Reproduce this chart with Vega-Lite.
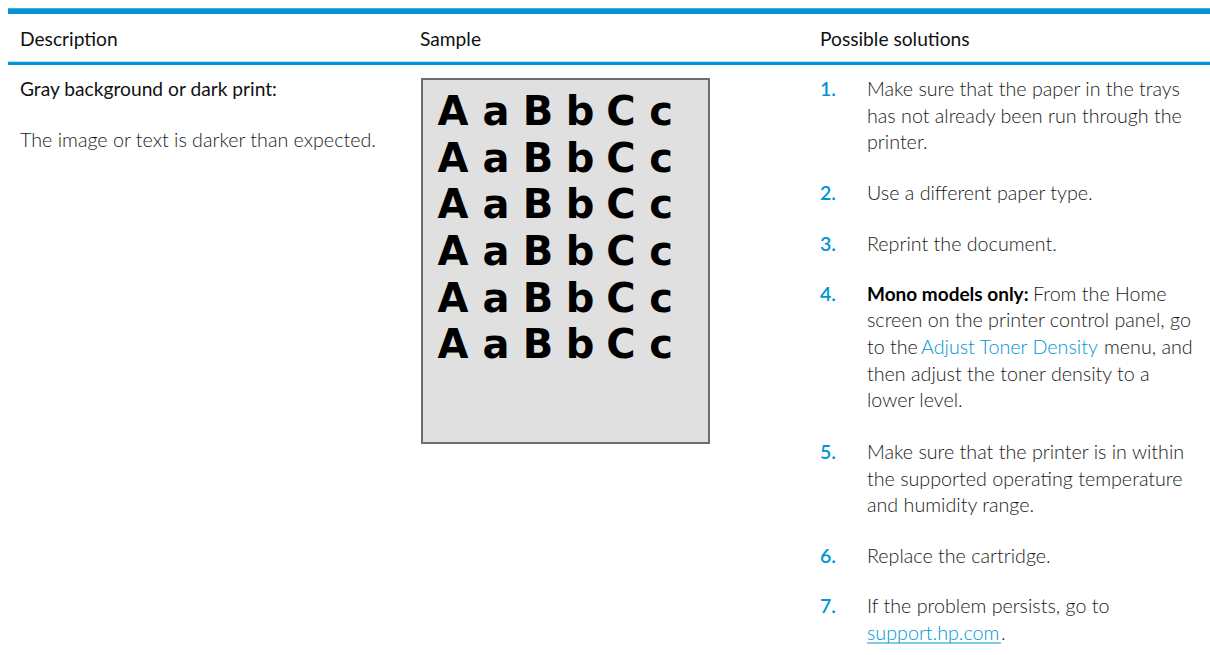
{
  "$schema": "https://vega.github.io/schema/vega-lite/v6.json",
  "autosize": {"type": "fit", "contains": "padding"},
  "width": 1210,
  "height": 655,
  "padding": 0,
  "background": "#ffffff",
  "config": {"view": {"stroke": null}},
  "datasets": {
    "bars": [
      {"part": "top bar", "x": 8, "x2": 1210, "y": 8.3, "y2": 14},
      {"part": "header rule", "x": 8, "x2": 1210, "y": 61.7, "y2": 65}
    ],
    "box": [{"x": 422, "x2": 709, "y": 79, "y2": 443}],
    "sample": [
      {"row": 1, "text": "A", "x": 453, "y": 125}, {"row": 1, "text": "a", "x": 496, "y": 125}, {"row": 1, "text": "B", "x": 538, "y": 125}, {"row": 1, "text": "b", "x": 580, "y": 125}, {"row": 1, "text": "C", "x": 621, "y": 125}, {"row": 1, "text": "c", "x": 661, "y": 125},
      {"row": 2, "text": "A", "x": 453, "y": 171.7}, {"row": 2, "text": "a", "x": 496, "y": 171.7}, {"row": 2, "text": "B", "x": 538, "y": 171.7}, {"row": 2, "text": "b", "x": 580, "y": 171.7}, {"row": 2, "text": "C", "x": 621, "y": 171.7}, {"row": 2, "text": "c", "x": 661, "y": 171.7},
      {"row": 3, "text": "A", "x": 453, "y": 218.3}, {"row": 3, "text": "a", "x": 496, "y": 218.3}, {"row": 3, "text": "B", "x": 538, "y": 218.3}, {"row": 3, "text": "b", "x": 580, "y": 218.3}, {"row": 3, "text": "C", "x": 621, "y": 218.3}, {"row": 3, "text": "c", "x": 661, "y": 218.3},
      {"row": 4, "text": "A", "x": 453, "y": 265}, {"row": 4, "text": "a", "x": 496, "y": 265}, {"row": 4, "text": "B", "x": 538, "y": 265}, {"row": 4, "text": "b", "x": 580, "y": 265}, {"row": 4, "text": "C", "x": 621, "y": 265}, {"row": 4, "text": "c", "x": 661, "y": 265},
      {"row": 5, "text": "A", "x": 453, "y": 311.7}, {"row": 5, "text": "a", "x": 496, "y": 311.7}, {"row": 5, "text": "B", "x": 538, "y": 311.7}, {"row": 5, "text": "b", "x": 580, "y": 311.7}, {"row": 5, "text": "C", "x": 621, "y": 311.7}, {"row": 5, "text": "c", "x": 661, "y": 311.7},
      {"row": 6, "text": "A", "x": 453, "y": 358.3}, {"row": 6, "text": "a", "x": 496, "y": 358.3}, {"row": 6, "text": "B", "x": 538, "y": 358.3}, {"row": 6, "text": "b", "x": 580, "y": 358.3}, {"row": 6, "text": "C", "x": 621, "y": 358.3}, {"row": 6, "text": "c", "x": 661, "y": 358.3}
    ],
    "texts": [
      {"role": "header", "text": "Description", "x": 20, "y": 46},
      {"role": "header", "text": "Sample", "x": 420, "y": 46},
      {"role": "header", "text": "Possible solutions", "x": 820, "y": 46},
      {"role": "header", "text": "Gray background or dark print:", "x": 20, "y": 96},
      {"role": "body", "text": "The image or text is darker than expected.", "x": 20, "y": 146.7},
      {"role": "num", "text": "1.", "x": 820, "y": 96},
      {"role": "num", "text": "2.", "x": 820, "y": 200},
      {"role": "num", "text": "3.", "x": 820, "y": 250.7},
      {"role": "num", "text": "4.", "x": 820, "y": 300.7},
      {"role": "num", "text": "5.", "x": 820, "y": 459},
      {"role": "num", "text": "6.", "x": 820, "y": 562.7},
      {"role": "num", "text": "7.", "x": 820, "y": 613.3},
      {"role": "body", "text": "Make sure that the paper in the trays", "x": 867, "y": 96},
      {"role": "body", "text": "has not already been run through the", "x": 867, "y": 122.7},
      {"role": "body", "text": "printer.", "x": 867, "y": 149},
      {"role": "body", "text": "Use a different paper type.", "x": 867, "y": 200},
      {"role": "body", "text": "Reprint the document.", "x": 867, "y": 250.7},
      {"role": "bold", "text": "Mono models only:", "x": 867, "y": 300.7},
      {"role": "body", "text": "From the Home", "x": 1033, "y": 300.7},
      {"role": "body", "text": "screen on the printer control panel, go", "x": 867, "y": 327.3},
      {"role": "body", "text": "to the", "x": 867, "y": 354},
      {"role": "link", "text": "Adjust Toner Density", "x": 921, "y": 354},
      {"role": "body", "text": "menu, and", "x": 1104, "y": 354},
      {"role": "body", "text": "then adjust the toner density to a", "x": 867, "y": 380.7},
      {"role": "body", "text": "lower level.", "x": 867, "y": 407},
      {"role": "body", "text": "Make sure that the printer is in within", "x": 867, "y": 459},
      {"role": "body", "text": "the supported operating temperature", "x": 867, "y": 485.5},
      {"role": "body", "text": "and humidity range.", "x": 867, "y": 512},
      {"role": "body", "text": "Replace the cartridge.", "x": 867, "y": 562.7},
      {"role": "body", "text": "If the problem persists, go to", "x": 867, "y": 613.3},
      {"role": "link", "text": "support.hp.com", "x": 867, "y": 640},
      {"role": "body", "text": ".", "x": 1001, "y": 640}
    ],
    "underline": [{"x": 867, "x2": 1001, "y": 643}]
  },
  "layer": [
    {
      "data": {"name": "bars"},
      "mark": {"type": "rect", "color": "#0096d6"},
      "encoding": {
        "x": {"field": "x", "type": "quantitative", "scale": {"domain": [0, 1210], "nice": false, "zero": false}, "axis": null},
        "x2": {"field": "x2"},
        "y": {"field": "y", "type": "quantitative", "scale": {"domain": [0, 655], "nice": false, "zero": false, "reverse": true}, "axis": null},
        "y2": {"field": "y2"}
      }
    },
    {
      "data": {"name": "box"},
      "mark": {"type": "rect", "fill": "#e0e0e0", "stroke": "#6e6e6e", "strokeWidth": 2},
      "encoding": {
        "x": {"field": "x", "type": "quantitative"},
        "x2": {"field": "x2"},
        "y": {"field": "y", "type": "quantitative"},
        "y2": {"field": "y2"}
      }
    },
    {
      "data": {"name": "sample"},
      "mark": {"type": "text", "font": "DejaVu Sans", "fontWeight": "bold", "fontSize": 40, "align": "center", "baseline": "alphabetic", "color": "#000000"},
      "encoding": {
        "x": {"field": "x", "type": "quantitative"},
        "y": {"field": "y", "type": "quantitative"},
        "text": {"field": "text"}
      }
    },
    {
      "data": {"name": "texts"},
      "transform": [{"filter": "datum.role === 'header'"}],
      "mark": {"type": "text", "font": "Lato", "fontSize": 19.2, "align": "left", "baseline": "alphabetic", "color": "#111111"},
      "encoding": {
        "x": {"field": "x", "type": "quantitative"},
        "y": {"field": "y", "type": "quantitative"},
        "text": {"field": "text"}
      }
    },
    {
      "data": {"name": "texts"},
      "transform": [{"filter": "datum.role === 'body'"}],
      "mark": {"type": "text", "font": "Lato", "fontWeight": 300, "fontSize": 19.7, "align": "left", "baseline": "alphabetic", "color": "#1a1a1a"},
      "encoding": {
        "x": {"field": "x", "type": "quantitative"},
        "y": {"field": "y", "type": "quantitative"},
        "text": {"field": "text"}
      }
    },
    {
      "data": {"name": "texts"},
      "transform": [{"filter": "datum.role === 'bold'"}],
      "mark": {"type": "text", "font": "Lato", "fontWeight": "bold", "fontSize": 19, "align": "left", "baseline": "alphabetic", "color": "#000000"},
      "encoding": {
        "x": {"field": "x", "type": "quantitative"},
        "y": {"field": "y", "type": "quantitative"},
        "text": {"field": "text"}
      }
    },
    {
      "data": {"name": "texts"},
      "transform": [{"filter": "datum.role === 'num'"}],
      "mark": {"type": "text", "font": "Lato", "fontWeight": 600, "fontSize": 19.5, "align": "left", "baseline": "alphabetic", "color": "#0096d6"},
      "encoding": {
        "x": {"field": "x", "type": "quantitative"},
        "y": {"field": "y", "type": "quantitative"},
        "text": {"field": "text"}
      }
    },
    {
      "data": {"name": "texts"},
      "transform": [{"filter": "datum.role === 'link'"}],
      "mark": {"type": "text", "font": "Lato", "fontWeight": 300, "fontSize": 19.7, "align": "left", "baseline": "alphabetic", "color": "#0096d6"},
      "encoding": {
        "x": {"field": "x", "type": "quantitative"},
        "y": {"field": "y", "type": "quantitative"},
        "text": {"field": "text"}
      }
    },
    {
      "data": {"name": "underline"},
      "mark": {"type": "rule", "color": "#0096d6", "strokeWidth": 1},
      "encoding": {
        "x": {"field": "x", "type": "quantitative"},
        "x2": {"field": "x2"},
        "y": {"field": "y", "type": "quantitative"}
      }
    }
  ]
}
